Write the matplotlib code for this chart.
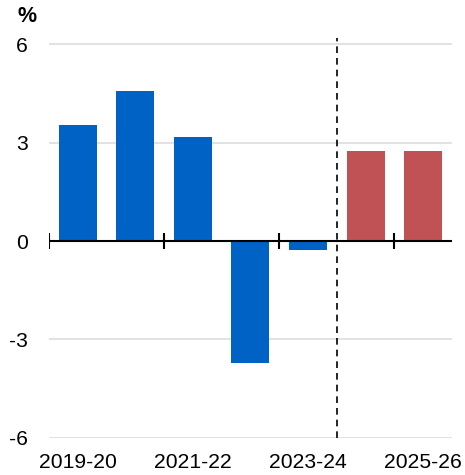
import matplotlib
matplotlib.use("Agg")
import matplotlib.pyplot as plt

categories = ["2019-20", "2020-21", "2021-22", "2022-23", "2023-24", "2024-25", "2025-26"]
values = [3.53, 4.57, 3.17, -3.72, -0.27, 2.74, 2.74]
is_forecast = [False, False, False, False, False, True, True]
yticks = [-6, -3, 0, 3, 6]
label_every = 2

plt.rcParams['font.family'] = ['Liberation Sans', 'DejaVu Sans']

fig = plt.figure(figsize=(4.65, 4.75), dpi=100)
ax = fig.add_axes([0.105, 0.078, 0.867, 0.843])

blue = "#0062C4"
red = "#C05256"
x = list(range(len(categories)))
colors = [red if f else blue for f in is_forecast]
ax.bar(x, values, width=0.66, color=colors, zorder=3)

ax.set_xlim(-0.5, len(categories) - 0.5)
ax.set_ylim(-6, 6.2)
ax.set_yticks(yticks)
ax.set_yticklabels([str(t) for t in yticks], fontsize=15.2)
for t in yticks:
    if t != 0:
        ax.axhline(t, color="#dddddd", lw=1.2, zorder=1)
ax.axhline(0, color="black", lw=1.5, zorder=4)

# tick marks on zero line at boundaries
bounds = [i - 0.5 for i in range(0, len(categories), label_every)]
ax.plot(bounds, [0] * len(bounds), linestyle="none", marker="|", markersize=11,
        markeredgewidth=1.5, color="black", zorder=5)

# forecast divider
first_fc = is_forecast.index(True)
ax.axvline(first_fc - 0.5, color="black", lw=1.2, linestyle=(0, (4, 3)), zorder=5)

ax.set_xticks(x[::label_every])
ax.set_xticklabels(categories[::label_every], fontsize=15.2)
ax.tick_params(axis="x", length=0, pad=11)
ax.tick_params(axis="y", length=0, pad=15)
for s in ax.spines.values():
    s.set_visible(False)

fig.text(0.059, 0.965, "%", fontsize=15.5, fontweight="bold", ha="center", va="center")

fig.savefig("out.png", dpi=100)
